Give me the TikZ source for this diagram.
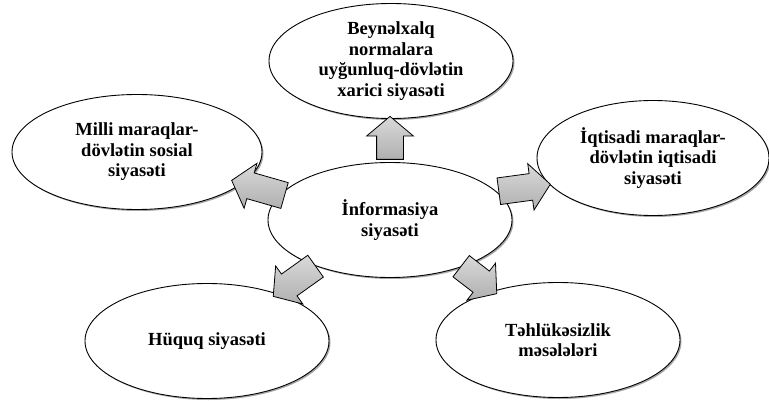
\documentclass[tikz,border=0pt]{standalone}
\usepackage{fontspec}
\setmainfont{Liberation Serif}
\usetikzlibrary{shapes.geometric,shapes.arrows,shadows}
\begin{document}
\begin{tikzpicture}[x=1pt,y=-1pt,
  bub/.style={ellipse,draw=black,line width=0.9pt,fill=white,
    minimum width=244pt,minimum height=115pt,inner sep=0pt,align=center,
    font=\fontsize{18.5}{20.5}\selectfont\bfseries,
    drop shadow={shadow xshift=1.5pt,shadow yshift=-1.5pt,fill=black,opacity=0.35}},
  blk/.style={single arrow,draw=black,line width=0.8pt,
    top color=gray!30,bottom color=gray!62,
    minimum width=46pt,single arrow head extend=10pt,
    single arrow tip angle=100,inner xsep=1pt,inner ysep=13pt}]
\useasboundingbox (0,0) rectangle (769,401);
\node[bub] (top) at (391,61) {Beynəlxalq\\normalara\\uyğunluq-dövlətin\\xarici siyasəti};
\node[bub,minimum width=250pt] (left) at (137,152) {Milli maraqlar-\\dövlətin sosial\\siyasəti};
\node[bub,minimum width=232pt] (right) at (653,158) {İqtisadi maraqlar-\\dövlətin iqtisadi\\siyasəti};
\node[bub] (center) at (390,220) {İnformasiya\\siyasəti};
\node[bub] (bl) at (207,341) {Hüquq siyasəti};
\node[bub] (br) at (558,340) {Təhlükəsizlik\\məsələləri};
\node[blk,minimum height=43pt,rotate=90] (aup) at (390,143.5) {};
\node[blk,minimum height=55pt,rotate=164] (aleft) at (263.5,189.5) {};
\node[blk,minimum height=52pt,rotate=7.7] (aright) at (519,188.5) {};
\node[blk,minimum height=52pt,rotate=215.5] (abl) at (299,278) {};
\node[blk,minimum height=45pt,rotate=-37.6] (abr) at (474.5,276.5) {};
\end{tikzpicture}
\end{document}
